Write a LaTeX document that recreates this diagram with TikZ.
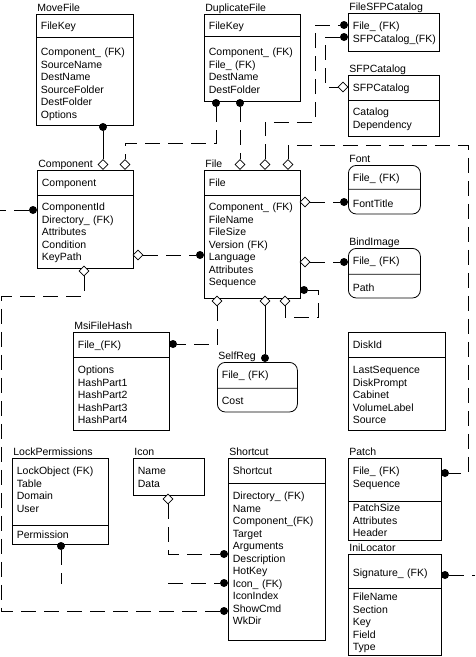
\documentclass[tikz,border=0pt]{standalone}
\usepackage{fontspec}
\setmainfont{Liberation Sans}
\usetikzlibrary{shapes.multipart,shapes.geometric}
\newcommand{\rowfont}{\fontsize{10.5}{12.5}\selectfont}
\newcommand{\rowtop}[1]{\rule{0pt}{#1pt}}
\newcommand{\rowend}[1]{\rule[-#1pt]{0pt}{#1pt}}

\begin{document}
\begin{tikzpicture}[x=1pt, y=-1pt, line width=0.8pt,
    tbl/.style={draw, rectangle split, rectangle split parts=2, anchor=north west,
        inner xsep=4.5pt, inner ysep=0pt, text width=#1, align=left, font=\rowfont},
    ttl/.style={anchor=base west, inner sep=0pt, font=\rowfont},
    dotend/.style={circle, fill=black, inner sep=0pt, minimum size=8pt},
    diaend/.style={diamond, draw, fill=white, inner sep=0pt, minimum size=10pt, line width=0.6pt},
    rel/.style={dash pattern=on 15pt off 8pt}]

    \useasboundingbox (0,0) rectangle (475,657);

    % tables
    \node[tbl=88pt] (moveFile) at (36,14) {\rowtop{15}FileKey\rowend{7}
        \nodepart{two}\rowtop{18}Component\_ (FK)\\SourceName\\DestName\\SourceFolder\\DestFolder\\Options\rowend{6.5}};
    \node[tbl=87pt] (dupFile) at (204,14) {\rowtop{15}FileKey\rowend{6}
        \nodepart{two}\rowtop{19}Component\_ (FK)\\File\_ (FK)\\DestName\\DestFolder\rowend{7.5}};
    \node[tbl=82pt, rectangle split parts=1] (fileSfp) at (348,13) {\rowtop{16}File\_ (FK)\\SFPCatalog\_(FK)\rowend{8.5}};
    \node[tbl=82pt] (sfpCat) at (348,75) {\rowtop{16}SFPCatalog\rowend{8}
        \nodepart{two}\rowtop{15}Catalog\\Dependency\rowend{7.5}};
    \node[tbl=87pt] (component) at (37,170) {\rowtop{16}Component\rowend{8}
        \nodepart{two}\rowtop{15}ComponentId\\Directory\_ (FK)\\Attributes\\Condition\\KeyPath\rowend{7}};
    \node[tbl=87pt] (file) at (204,170) {\rowtop{16}File\rowend{8}
        \nodepart{two}\rowtop{15}Component\_ (FK)\\FileName\\FileSize\\Version (FK)\\Language\\Attributes\\Sequence\rowend{12}};
    \node[tbl=63pt, rounded corners=8pt] (font) at (348,165) {\rowtop{16}File\_ (FK)\rowend{7}
        \nodepart{two}\rowtop{18}FontTitle\rowend{6}};
    \node[tbl=63pt, rounded corners=8pt] (bindImage) at (348,248) {\rowtop{16}File\_ (FK)\rowend{9}
        \nodepart{two}\rowtop{17}Path\rowend{6}};
    \node[tbl=87pt] (msiHash) at (73,332) {\rowtop{16}File\_(FK)\rowend{8}
        \nodepart{two}\rowtop{16}Options\\HashPart1\\HashPart2\\HashPart3\\HashPart4\rowend{6}};
    \node[tbl=71pt, rounded corners=8pt] (selfReg) at (217,362) {\rowtop{16}File\_ (FK)\rowend{9}
        \nodepart{two}\rowtop{16}Cost\rowend{7}};
    \node[tbl=88pt] (diskId) at (348,332) {\rowtop{16}DiskId\rowend{8}
        \nodepart{two}\rowtop{16}LastSequence\\DiskPrompt\\Cabinet\\VolumeLabel\\Source\rowend{6}};
    \node[tbl=87pt] (lockPerm) at (12,458) {\rowtop{16}LockObject (FK)\\Table\\Domain\\User\rowend{12.5}
        \nodepart{two}\rowtop{13}Permission\rowend{5}};
    \node[tbl=62pt, rectangle split parts=1] (icon) at (133,458) {\rowtop{16}Name\\Data\rowend{7.5}};
    \node[tbl=88pt] (shortcut) at (228,458) {\rowtop{16}Shortcut\rowend{8}
        \nodepart{two}\rowtop{16}Directory\_ (FK)\\Name\\Component\_(FK)\\Target\\Arguments\\Description\\HotKey\\Icon\_ (FK)\\IconIndex\\ShowCmd\\WkDir\rowend{15}};
    \node[tbl=84pt] (patch) at (348,458) {\rowtop{16}File\_ (FK)\\Sequence\rowend{13.5}
        \nodepart{two}\rowtop{10}PatchSize\\Attributes\\Header\rowend{3}};
    \node[tbl=84pt] (iniLoc) at (348,554) {\rowtop{22}Signature\_ (FK)\rowend{11}
        \nodepart{two}\rowtop{12}FileName\\Section\\Key\\Field\\Type\rowend{4}};

    % table names
    \node[ttl] (moveFileT) at (37,11) {MoveFile};
    \node[ttl] (dupFileT) at (205,11) {DuplicateFile};
    \node[ttl] (fileSfpT) at (349,10) {FileSFPCatalog};
    \node[ttl] (sfpCatT) at (349,72) {SFPCatalog};
    \node[ttl] (componentT) at (38,167) {Component};
    \node[ttl] (fileT) at (205,167) {File};
    \node[ttl] (fontT) at (349,162) {Font};
    \node[ttl] (bindImageT) at (349,245) {BindImage};
    \node[ttl] (msiHashT) at (74,329) {MsiFileHash};
    \node[ttl] (selfRegT) at (218,359) {SelfReg};
    \node[ttl] (lockPermT) at (13,455) {LockPermissions};
    \node[ttl] (iconT) at (134,455) {Icon};
    \node[ttl] (shortcutT) at (229,455) {Shortcut};
    \node[ttl] (patchT) at (349,455) {Patch};
    \node[ttl] (iniLocT) at (349,551) {IniLocator};

    % relationship ends
    \node[dotend] (moveFk) at (103,127) {};
    \node[diaend] (compPk1) at (103,164.5) {};
    \node[diaend] (compPk2) at (125,164.5) {};
    \node[dotend] (dupFk1) at (216,103) {};
    \node[dotend] (dupFk2) at (240,103) {};
    \node[diaend] (filePk1) at (240,164.5) {};
    \node[diaend] (filePk2) at (265,164.5) {};
    \node[diaend] (filePk3) at (288,164.5) {};
    \node[dotend] (sfpFk1) at (344,25) {};
    \node[dotend] (sfpFk2) at (344,37) {};
    \node[diaend] (sfpPk) at (343,87) {};
    \node[diaend] (filePk4) at (305,202) {};
    \node[diaend] (filePk5) at (305,262) {};
    \node[dotend] (fontFk) at (344,202) {};
    \node[dotend] (bindFk) at (344,262) {};
    \node[diaend] (compPk3) at (138,255) {};
    \node[dotend] (fileFk1) at (200,255) {};
    \node[dotend] (fileFk2) at (304,290) {};
    \node[diaend] (filePk6) at (217,301) {};
    \node[diaend] (filePk7) at (265,301) {};
    \node[diaend] (filePk8) at (285,301) {};
    \node[dotend] (msiFk) at (173,344) {};
    \node[dotend] (selfFk) at (265,358) {};
    \node[dotend] (compFk) at (33,210) {};
    \node[diaend] (compPk4) at (84,271) {};
    \node[dotend] (shortFk1) at (224,554) {};
    \node[dotend] (shortFk2) at (224,583) {};
    \node[dotend] (shortFk3) at (224,611) {};
    \node[diaend] (iconPk) at (168,499) {};
    \node[dotend] (lockFk) at (61,546) {};
    \node[dotend] (patchFk) at (445,473) {};
    \node[dotend] (iniFk) at (445,575) {};
    \coordinate (compEnd) at (0,210);
    \coordinate (iconEnd) at (168,583);
    \coordinate (lockEnd) at (61,584);
    \coordinate (iniEnd) at (475,575);

    % relationships
    \draw (moveFk) -- (compPk1);
    \draw[rel] (dupFk1) -- ++(0,40) -| (compPk2);
    \draw[rel] (dupFk2) -- (filePk1);
    \draw[rel] (filePk2) -- ++(0,-42.5) -- ++(50,0) |- (sfpFk1);
    \draw[rel] (sfpFk2) -- ++(-19,0) |- (sfpPk);
    \draw[rel] (filePk3) -- ++(0,-19.5) -- ++(180,0) |- (patchFk);
    \draw[rel] (filePk4) -- (fontFk);
    \draw[rel] (filePk5) -- (bindFk);
    \draw[rel] (compPk3) -- (fileFk1);
    \draw[rel] (fileFk2) -- ++(14,0) -- ++(0,27) -| (filePk8);
    \draw[rel] (filePk6) |- (msiFk);
    \draw (filePk7) -- (selfFk);
    \draw[rel] (compFk) -- (compEnd);
    \draw[rel] (compPk4) -- ++(0,25) -- ++(-82.5,0) |- (shortFk3);
    \draw[rel] (iconPk) |- (shortFk1);
    \draw[rel] (iconEnd) -- (shortFk2);
    \draw[rel] (lockFk) -- (lockEnd);
    \draw[rel] (iniFk) -- (iniEnd);

\end{tikzpicture}
\end{document}
